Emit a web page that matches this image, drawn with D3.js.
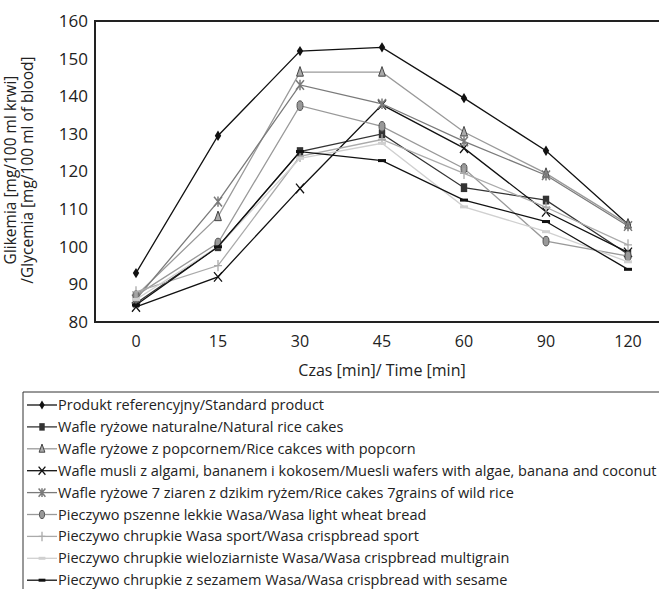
<!DOCTYPE html>
<html>
<head>
<meta charset="utf-8">
<script src="https://cdn.jsdelivr.net/npm/d3@7"></script>
<style>
  body { margin: 0; background: #fff; }
  text { font-family: "Open Sans", "Noto Sans", sans-serif; fill: #222; }
</style>
</head>
<body>
<div id="chart"></div>
<script>
const times = ["0", "15", "30", "45", "60", "90", "120"];
const yTicks = [80, 90, 100, 110, 120, 130, 140, 150, 160];

const standard   = [93, 129.5, 152, 153, 139.5, 125.5, 106];
const natural    = [85, 100, 125.3, 130, 115.7, 112.4, 98];
const popcorn    = [87, 108, 146.4, 146.4, 130.5, 119.5, 106];
const muesli     = [84, 92, 115.5, 137.7, 126.2, 109.3, 98.5];
const grains7    = [86, 112, 143, 138, 128, 119, 105.5];
const wheat      = [87, 101, 137.5, 132, 120.8, 101.5, 97.5];
const sport      = [88, 95, 124, 128.5, 119.5, 110.5, 100.5];
const multigrain = [86, 100, 123.5, 127.5, 110.6, 104, 96];
const sesame     = [84.5, 100, 125.3, 122.9, 112.4, 106.7, 94];

const labels = [
  "Produkt referencyjny/Standard product",
  "Wafle ryżowe naturalne/Natural rice cakes",
  "Wafle ryżowe z popcornem/Rice cakces with popcorn",
  "Wafle musli z algami, bananem i kokosem/Muesli wafers with algae, banana and coconut",
  "Wafle ryżowe 7 ziaren z dzikim ryżem/Rice cakes 7grains of wild rice",
  "Pieczywo pszenne lekkie Wasa/Wasa light wheat bread",
  "Pieczywo chrupkie Wasa sport/Wasa crispbread sport",
  "Pieczywo chrupkie wieloziarniste Wasa/Wasa crispbread multigrain",
  "Pieczywo chrupkie z sezamem Wasa/Wasa crispbread with sesame"
];

// line colour, marker type, marker fill
const series = [
  { values: standard,   color: "#111", marker: "diamond",  fill: "#111" },
  { values: natural,    color: "#333", marker: "square",   fill: "#333" },
  { values: popcorn,    color: "#9a9a9a", marker: "triangle", fill: "#aaa" },
  { values: muesli,     color: "#111", marker: "x",        fill: "none" },
  { values: grains7,    color: "#7a7a7a", marker: "star",  fill: "none" },
  { values: wheat,      color: "#999", marker: "circle",   fill: "#999" },
  { values: sport,      color: "#aaa", marker: "plus",     fill: "none" },
  { values: multigrain, color: "#d0d0d0", marker: "dash",  fill: "#d0d0d0" },
  { values: sesame,     color: "#111", marker: "dash",     fill: "#111" }
];
series.forEach((s, i) => s.label = labels[i]);

const W = 659, H = 589;
const svg = d3.select("#chart").append("svg")
  .attr("width", W).attr("height", H);

const x = d3.scaleBand().domain(times).range([95, 669]);
const y = d3.scaleLinear().domain([80, 160]).range([322, 21]);

// frame
svg.append("rect")
  .attr("x", 95).attr("y", 21)
  .attr("width", 574).attr("height", 301)
  .attr("fill", "none").attr("stroke", "#222").attr("stroke-width", 2);

// y axis labels
svg.append("g")
  .selectAll("text").data(yTicks).join("text")
  .attr("x", 88).attr("y", d => y(d)).attr("dy", "0.35em")
  .attr("text-anchor", "end").style("font-size", "17px")
  .text(d => d);

// x axis labels
svg.append("g")
  .selectAll("text").data(times).join("text")
  .attr("x", d => x(d) + x.bandwidth() / 2).attr("y", 341).attr("dy", "0.35em")
  .attr("text-anchor", "middle").style("font-size", "16px")
  .text(d => d);

svg.append("text")
  .attr("x", 382).attr("y", 370).attr("dy", "0.35em")
  .attr("text-anchor", "middle").style("font-size", "16px")
  .text("Czas [min]/ Time [min]");

const yt = svg.append("text")
  .attr("transform", "translate(11,170) rotate(-90)")
  .attr("text-anchor", "middle").style("font-size", "15.5px");
yt.append("tspan").attr("x", 0).attr("dy", "0.35em").text("Glikemia [mg/100 ml  krwi]");
yt.append("tspan").attr("x", 0).attr("dy", "1.08em").text("/Glycemia [mg/100 ml of blood]");

function drawMarker(g, s, cx, cy, k) {
  const c = s.color, sz = 4 * k;
  if (s.marker === "diamond") {
    g.append("path").attr("d", `M${cx},${cy - sz * 1.3}L${cx + sz * 0.8},${cy}L${cx},${cy + sz * 1.3}L${cx - sz * 0.8},${cy}Z`)
      .attr("fill", s.fill);
  } else if (s.marker === "square") {
    g.append("rect").attr("x", cx - sz * 0.8).attr("y", cy - sz * 1.1)
      .attr("width", sz * 1.6).attr("height", sz * 2.2).attr("fill", s.fill);
  } else if (s.marker === "triangle") {
    g.append("path").attr("d", `M${cx},${cy - sz * 1.4}L${cx + sz * 0.85},${cy + sz}L${cx - sz * 0.85},${cy + sz}Z`)
      .attr("fill", s.fill).attr("stroke", "#444").attr("stroke-width", 1);
  } else if (s.marker === "x") {
    g.append("path").attr("d", `M${cx - sz},${cy - sz * 1.2}L${cx + sz},${cy + sz * 1.2}M${cx + sz},${cy - sz * 1.2}L${cx - sz},${cy + sz * 1.2}`)
      .attr("stroke", c).attr("stroke-width", 1.3);
  } else if (s.marker === "star") {
    g.append("path").attr("d", `M${cx - sz},${cy - sz * 1.2}L${cx + sz},${cy + sz * 1.2}M${cx + sz},${cy - sz * 1.2}L${cx - sz},${cy + sz * 1.2}M${cx},${cy - sz * 1.3}L${cx},${cy + sz * 1.3}`)
      .attr("stroke", c).attr("stroke-width", 1.5);
  } else if (s.marker === "circle") {
    g.append("ellipse").attr("cx", cx).attr("cy", cy).attr("rx", sz * 0.75).attr("ry", sz * 1.2)
      .attr("fill", s.fill).attr("stroke", "#555").attr("stroke-width", 1);
  } else if (s.marker === "plus") {
    g.append("path").attr("d", `M${cx},${cy - sz * 1.4}L${cx},${cy + sz * 1.4}M${cx - sz},${cy}L${cx + sz},${cy}`)
      .attr("stroke", c).attr("stroke-width", 1.3);
  } else if (s.marker === "dash") {
    g.append("rect").attr("x", cx - sz).attr("y", cy - 1.5).attr("width", sz * 2).attr("height", 3)
      .attr("fill", s.fill);
  }
}

const line = d3.line()
  .x((d, i) => x(times[i]) + x.bandwidth() / 2)
  .y(d => y(d));

series.forEach(s => {
  const g = svg.append("g");
  g.append("path").datum(s.values)
    .attr("d", line).attr("fill", "none")
    .attr("stroke", s.color).attr("stroke-width", 1.3);
  s.values.forEach((v, i) => drawMarker(g, s, x(times[i]) + x.bandwidth() / 2, y(v), 1));
});

// legend
const lx = 23, ly = 392, rowH = 21.9;
svg.append("path")
  .attr("d", `M${W},${ly}H${lx}V${H}`)
  .attr("fill", "none").attr("stroke", "#333").attr("stroke-width", 1);

series.forEach((s, i) => {
  const cy = ly + 13 + i * rowH;
  const g = svg.append("g");
  g.append("line").attr("x1", 27).attr("x2", 57).attr("y1", cy).attr("y2", cy)
    .attr("stroke", s.color).attr("stroke-width", 1.3);
  drawMarker(g, s, 42, cy, 0.85);
  g.append("text").attr("x", 58).attr("y", cy).attr("dy", "0.35em")
    .style("font-size", "14.5px").text(s.label);
});
</script>
</body>
</html>
